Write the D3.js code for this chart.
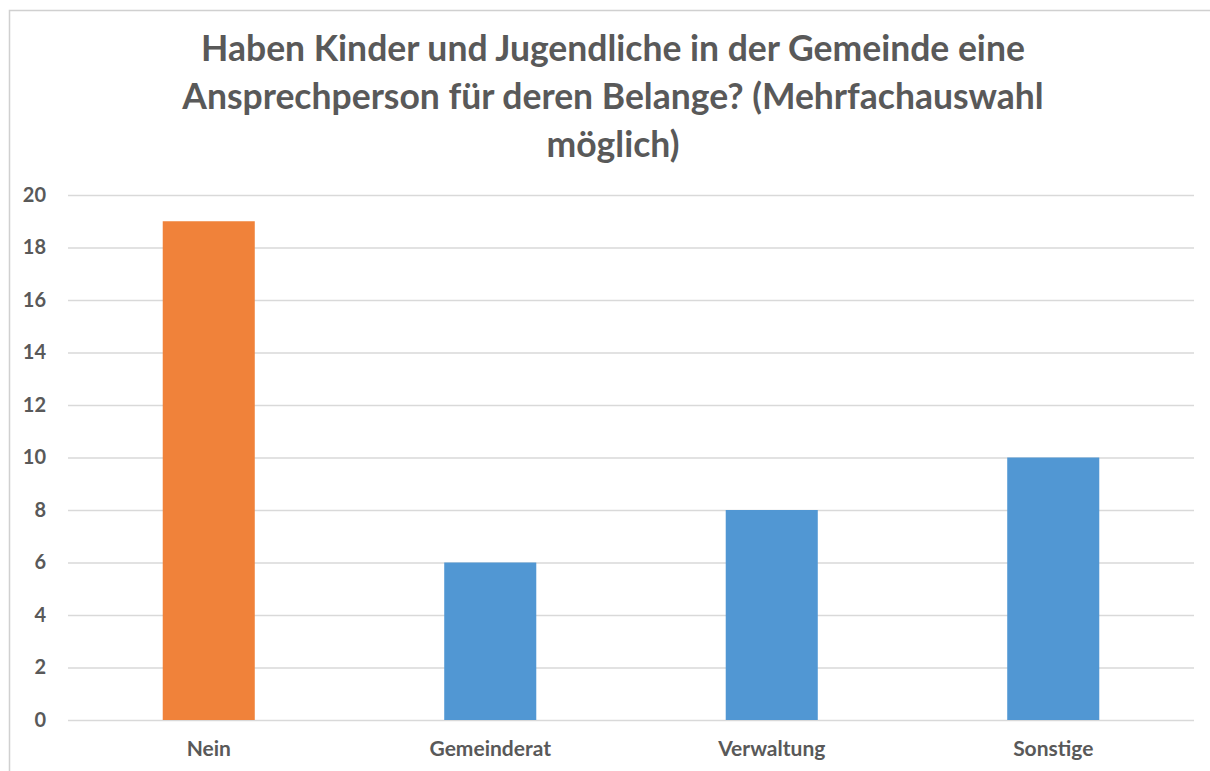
<!DOCTYPE html>
<html>
<head>
<meta charset="utf-8">
<script src="https://cdn.jsdelivr.net/npm/d3@7"></script>
<style>
  html, body { margin: 0; padding: 0; background: #fff; }
  svg { display: block; }
</style>
</head>
<body>
<svg id="chart" width="1210" height="771"></svg>
<script>
// Survey answers: who is the contact person for children and young people
const categories = ["Nein", "Gemeinderat", "Verwaltung", "Sonstige"];
const counts = [19, 6, 8, 10];
const barColors = ["#F0823A", "#5197D3", "#5197D3", "#5197D3"];
const yTicks = [0, 2, 4, 6, 8, 10, 12, 14, 16, 18, 20];
const titleLines = [
  "Haben Kinder und Jugendliche in der Gemeinde eine",
  "Ansprechperson für deren Belange? (Mehrfachauswahl",
  "möglich)"
];

const svg = d3.select("#chart");
const W = 1210, H = 771;
const plot = { left: 68, right: 1194, top: 195, bottom: 720 };
const textColor = "#595959";
const font = "Lato, 'Open Sans', sans-serif";

// Chart frame (cut off at the right and bottom)
svg.append("path")
  .attr("d", `M9.5,${H} L9.5,10.5 L${W},10.5`)
  .attr("fill", "none")
  .attr("stroke", "#d0d0d0")
  .attr("stroke-width", 1.5);

// Title
svg.append("text")
  .attr("font-family", font)
  .attr("font-weight", "bold")
  .attr("font-size", 35.5)
  .attr("fill", textColor)
  .attr("text-anchor", "middle")
  .selectAll("tspan")
  .data(titleLines)
  .join("tspan")
  .attr("x", 613)
  .attr("y", (d, i) => 61 + i * 48)
  .text(d => d);

const barPad = 0.673;
const x = d3.scaleBand()
  .domain(categories)
  .range([plot.left, plot.right])
  .paddingInner(barPad)
  .paddingOuter(barPad / 2);

const y = d3.scaleLinear()
  .domain([0, 20])
  .range([plot.bottom, plot.top]);

// Horizontal gridlines
const yAxis = d3.axisLeft(y)
  .tickValues(yTicks)
  .tickSize(-(plot.right - plot.left))
  .tickPadding(22)
  .tickFormat(d3.format("d"));

const gy = svg.append("g")
  .attr("transform", `translate(${plot.left},0)`)
  .call(yAxis);
gy.select(".domain").remove();
gy.selectAll(".tick line")
  .attr("stroke", "#d9d9d9")
  .attr("stroke-width", 1.5);
gy.selectAll(".tick text")
  .attr("font-family", font)
  .attr("font-weight", "bold")
  .attr("font-size", 20)
  .attr("fill", textColor);

// Bars
svg.append("g")
  .selectAll("rect")
  .data(categories)
  .join("rect")
  .attr("x", d => x(d))
  .attr("y", (d, i) => y(counts[i]))
  .attr("width", x.bandwidth())
  .attr("height", (d, i) => y(0) - y(counts[i]))
  .attr("fill", (d, i) => barColors[i]);

// Category axis
const xAxis = d3.axisBottom(x).tickSize(0).tickPadding(21);
const gx = svg.append("g")
  .attr("transform", `translate(0,${plot.bottom})`)
  .call(xAxis);
gx.select(".domain").remove();
gx.selectAll(".tick text")
  .attr("font-family", font)
  .attr("font-weight", "bold")
  .attr("font-size", 21)
  .attr("fill", textColor);
</script>
</body>
</html>
